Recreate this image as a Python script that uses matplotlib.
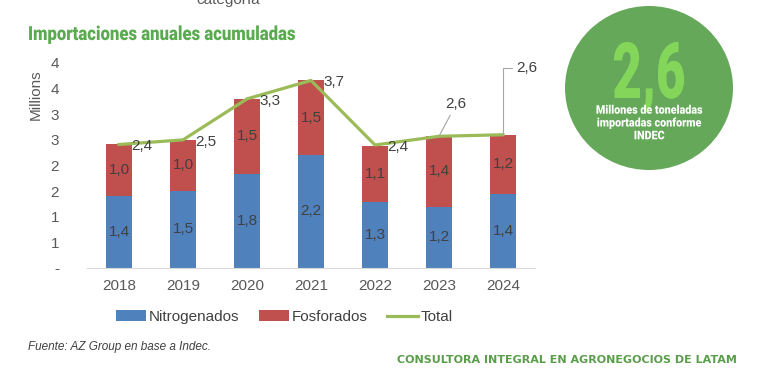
import matplotlib
matplotlib.use("Agg")
import matplotlib.pyplot as plt
from matplotlib.patches import Ellipse, Patch
from matplotlib.lines import Line2D
from matplotlib.patheffects import AbstractPathEffect
from matplotlib.transforms import Affine2D

years = ["2018", "2019", "2020", "2021", "2022", "2023", "2024"]
nitrogenados = [1.40, 1.51, 1.84, 2.21, 1.29, 1.20, 1.44]
fosforados = [1.01, 0.99, 1.46, 1.45, 1.10, 1.37, 1.16]
total = [2.41, 2.50, 3.30, 3.66, 2.40, 2.57, 2.60]
n_labels = ["1,4", "1,5", "1,8", "2,2", "1,3", "1,2", "1,4"]
f_labels = ["1,0", "1,0", "1,5", "1,5", "1,1", "1,4", "1,2"]
t_labels = ["2,4", "2,5", "3,3", "3,7", "2,4", "2,6", "2,6"]
y_ticks = [0, 0.5, 1, 1.5, 2, 2.5, 3, 3.5, 4]
y_ticklabels = ["-", "1", "1", "2", "2", "3", "3", "4", "4"]

BLUE = "#4f81bd"
RED = "#c0504d"
GREEN = "#9bbb59"
TXT = "#404040"
TICK = "#595959"

plt.rcParams["font.family"] = ["Liberation Sans", "DejaVu Sans"]

W, H = 759, 383
DPI = 100


class Squeeze(AbstractPathEffect):
    """Horizontally compress glyphs around a given x (display pixels)."""

    def __init__(self, sx, cx):
        super().__init__()
        self.sx = sx
        self.cx = cx

    def draw_path(self, renderer, gc, tpath, affine, rgbFace=None):
        t = affine + Affine2D().translate(-self.cx, 0).scale(self.sx, 1).translate(self.cx, 0)
        renderer.draw_path(gc, tpath, t, rgbFace)


fig = plt.figure(figsize=(W / DPI, H / DPI), dpi=DPI)
fig.patch.set_facecolor("white")

ax = fig.add_axes([87 / W, 1 - 268 / H, (535 - 87) / W, (268 - 63) / H])
x = list(range(len(years)))
bw = 0.4
ax.bar(x, nitrogenados, bw, color=BLUE, label="Nitrogenados")
ax.bar(x, fosforados, bw, bottom=nitrogenados, color=RED, label="Fosforados")
ax.plot(x, total, color=GREEN, lw=2.3, label="Total", solid_joinstyle="round")

for i in x:
    ax.text(i, nitrogenados[i] / 2, n_labels[i], ha="center", va="center",
            fontsize=11, color=TXT)
    ax.text(i, nitrogenados[i] + fosforados[i] / 2, f_labels[i], ha="center",
            va="center", fontsize=11, color=TXT)

for i in range(5):
    ax.annotate(t_labels[i], (x[i], total[i]), xytext=(12, -2),
                textcoords="offset pixels", ha="left", va="center",
                fontsize=11, color=TXT)
# 2023 with leader line
ax.annotate(t_labels[5], (x[5], total[5]), xytext=(17, 32),
            textcoords="offset pixels", ha="center", va="center",
            fontsize=11, color=TXT,
            arrowprops=dict(arrowstyle="-", color="#a6a6a6", lw=0.8,
                            shrinkA=1, shrinkB=0))
# 2024 with angled leader line
ax.annotate(t_labels[6], (x[6], total[6]), xytext=(13, 67),
            textcoords="offset pixels", ha="left", va="center",
            fontsize=11, color=TXT,
            arrowprops=dict(arrowstyle="-", color="#a6a6a6", lw=0.8,
                            shrinkA=1, shrinkB=0,
                            connectionstyle="angle,angleA=0,angleB=90,rad=0"))

ax.set_xlim(-0.5, len(years) - 0.5)
ax.set_ylim(0, 4)
ax.set_xticks(x)
ax.set_xticklabels(years, fontsize=11, color=TICK)
ax.set_yticks(y_ticks)
ax.set_yticklabels(y_ticklabels, fontsize=11, color=TICK)
ax.tick_params(axis="both", length=0)
ax.tick_params(axis="y", pad=20)
ax.tick_params(axis="x", pad=8)
for s in ["top", "right", "left"]:
    ax.spines[s].set_visible(False)
ax.spines["bottom"].set_color("#d9d9d9")
ax.set_facecolor("white")

fig.text(36 / W, 1 - 95 / H, "Millions", rotation=90, ha="center", va="center",
         fontsize=11, color=TICK)

handles = [Patch(facecolor=BLUE), Patch(facecolor=RED),
           Line2D([], [], color=GREEN, lw=2.3)]
fig.legend(handles, ["Nitrogenados", "Fosforados", "Total"], loc="center",
           bbox_to_anchor=(284 / W, 1 - 317 / H), ncol=3, frameon=False,
           fontsize=11, handlelength=2.0, handleheight=0.7,
           handletextpad=0.15, columnspacing=1.3, labelcolor=TXT)

# Titles and decorations
fig.text(228 / W, 1 - 4 / H, "categoría", ha="center", va="baseline",
         fontsize=11, color=TICK)
fig.text(28 / W, 1 - 35 / H, "Importaciones anuales acumuladas", ha="left",
         va="center", fontsize=14, fontweight="heavy", color="#5aab50",
         family=["Roboto", "DejaVu Sans"],
         path_effects=[Squeeze(0.86, 28)])

circ = Ellipse((649 / W, 1 - 88 / H), 168 / W, 164 / H,
               transform=fig.transFigure, facecolor="#65a85a",
               edgecolor="none")
fig.patches.append(circ)
fig.text(649 / W, 1 - 77 / H, "2,6", ha="center", va="center", fontsize=56,
         fontweight="black", color="#84d65a",
         family=["Roboto", "DejaVu Sans"],
         path_effects=[Squeeze(0.66, 649)])
fig.text(649 / W, 1 - 123 / H, "Millones de toneladas\nimportadas conforme\nINDEC",
         ha="center", va="center", fontsize=8.6, fontweight="heavy",
         color="white", linespacing=0.98, family=["Roboto", "DejaVu Sans"],
         path_effects=[Squeeze(0.9, 649)])

fig.text(28 / W, 1 - 347 / H, "Fuente: AZ Group en base a Indec.", ha="left",
         va="center", fontsize=8.5, style="italic", color=TXT)
fig.text(737 / W, 1 - 360 / H, "CONSULTORA INTEGRAL EN AGRONEGOCIOS DE LATAM",
         ha="right", va="center", fontsize=8.0, fontweight="bold",
         color="#5a9e4b", family=["DejaVu Sans"])

fig.savefig("out.png", dpi=DPI, facecolor="white")
